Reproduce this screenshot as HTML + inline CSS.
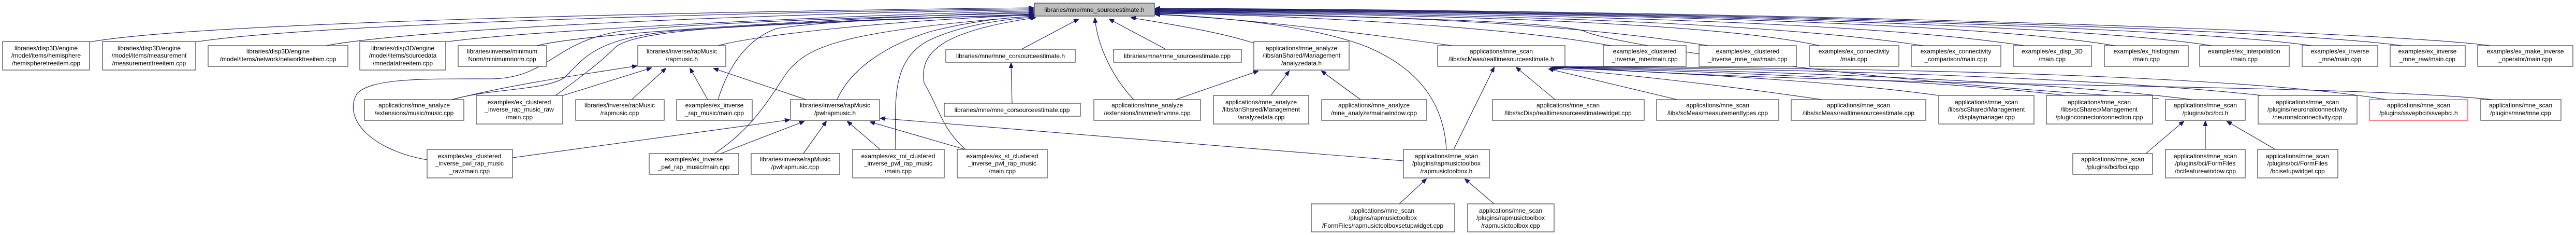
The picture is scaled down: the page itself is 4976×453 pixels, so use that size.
<!DOCTYPE html>
<html><head><meta charset="utf-8"><style>
html,body{margin:0;padding:0;background:#fff;}
svg{display:block}
text{font-family:"Liberation Sans",sans-serif;font-size:12px;fill:#000;text-anchor:middle}
.n{fill:#fff;stroke:#404040;stroke-width:1.2}
.e{fill:none;stroke:#191970;stroke-width:1.1}
</style></head><body>
<svg width="4976" height="453" viewBox="0 0 4976 453" xmlns="http://www.w3.org/2000/svg">
<defs><marker id="a" markerWidth="10" markerHeight="8" refX="9" refY="4" orient="auto" markerUnits="userSpaceOnUse"><path d="M0,0 L10,4 L0,8 z" fill="#191970" stroke="#191970"/></marker></defs>
<g class="e" marker-end="url(#a)">
<!-- to main from left -->
<path d="M173,81 C400,40 1500,20 1996,15"/>
<path d="M378,81 C600,45 1500,22 1996,17"/>
<path d="M630,88 C800,55 1500,25 1996,19"/>
<path d="M861,81 C1000,60 1600,30 1996,21"/>
<path d="M1037,88 C1150,60 1700,32 1996,23"/>
<path d="M825,308 C720,290 660,230 690,180 C720,150 820,152 950,152 C1060,150 1070,80 1200,60 C1400,40 1800,30 1996,25"/>
<path d="M873,192 C950,170 1050,175 1090,150 C1130,110 1150,75 1300,60 C1500,45 1800,35 1996,27"/>
<path d="M1073,184 C1120,150 1160,120 1190,90 C1230,60 1400,45 1996,28"/>
<path d="M1387,88 C1450,70 1700,40 1996,29"/>
<path d="M1387,192 C1400,150 1430,80 1500,55 C1600,40 1800,32 1996,30"/>
<path d="M1380,296 C1450,250 1480,200 1520,140 C1560,90 1620,60 1996,31"/>
<path d="M1617,192 C1640,140 1700,90 1800,60 C1880,40 1950,33 1996,32"/>
<path d="M1730,288 C1730,200 1720,120 1790,80 C1850,50 1930,38 1998,33"/>
<path d="M1865,288 C1820,250 1810,200 1785,160 C1775,100 1820,60 2000,34"/>
<!-- bottom -->
<path d="M1973,95 L2083,37"/>
<path d="M2190,192 C2150,150 2120,90 2115,35"/>
<path d="M2252,95 L2143,37"/>
<path d="M2422,83 C2350,60 2250,45 2185,34"/>
<!-- right -->
<path d="M2806,88 C2600,60 2400,35 2232,28"/>
<path d="M2794,288 C2790,220 2760,140 2640,90 C2550,55 2400,35 2232,27"/>
<path d="M3112,88 C2900,50 2500,30 2232,25"/>
<path d="M3300,88 C3000,40 2600,28 2232,24"/>
<path d="M3515,88 C3300,40 2700,27 2232,23"/>
<path d="M3715,88 C3400,40 2800,26 2232,22"/>
<path d="M3910,88 C3600,40 2900,25 2232,21"/>
<path d="M4085,88 C3800,40 3000,24 2232,20"/>
<path d="M4272,88 C4000,45 3100,23 2232,19"/>
<path d="M4465,88 C4200,50 3200,22 2232,18"/>
<path d="M4640,88 C4400,55 3300,21 2232,17"/>
<path d="M4810,88 C4600,60 3400,20 2232,16"/>
<path d="M4170,190 C3500,150 3100,80 3060,60 C3000,40 2600,30 2232,26"/>
<!-- rapmusic.h -->
<path d="M873,192 C1000,160 1150,140 1230,127"/>
<path d="M1088,184 L1258,131"/>
<path d="M1220,192 L1286,132"/>
<path d="M1367,192 L1333,132"/>
<path d="M1557,192 L1379,132"/>
<!-- pwlrapmusic.h -->
<path d="M990,304 L1525,231"/>
<path d="M1392,296 L1553,234"/>
<path d="M1552,296 L1596,234"/>
<path d="M1700,288 L1637,234"/>
<path d="M1864,288 L1681,235"/>
<path d="M2711,310 L1701,228"/>
<!-- corsource -->
<path d="M1955,199 L1953,122"/>
<!-- analyzedata.h -->
<path d="M2271,192 L2430,137"/>
<path d="M2455,184 L2490,137"/>
<path d="M2628,192 L2553,137"/>
<!-- rts.h -->
<path d="M2808,288 L2886,130"/>
<path d="M3004,192 L2929,130"/>
<path d="M3240,192 L2992,133"/>
<path d="M3520,192 C3300,160 3100,140 2995,131"/>
<path d="M3745,184 C3500,150 3100,135 2998,130"/>
<path d="M3990,184 C3700,150 3200,135 3000,130"/>
<path d="M4235,192 C3900,150 3300,135 3002,129"/>
<path d="M4370,184 C4000,145 3400,132 3004,129"/>
<path d="M4610,192 C4300,140 3500,130 3006,128"/>
<path d="M4815,192 C4500,160 3600,170 3010,128"/>
<!-- rapmusictoolbox.h -->
<path d="M2703,393 L2755,345"/>
<path d="M2886,393 L2830,345"/>
<!-- bci.h -->
<path d="M4145,296 L4218,234"/>
<path d="M4260,288 L4260,234"/>
<path d="M4395,288 L4302,234"/>
</g>
<!-- main -->
<rect x="1998" y="6" width="232" height="25" fill="#bfbfbf" stroke="#404040" stroke-width="1.2"/>
<text x="2114" y="23">libraries/mne/mne_sourceestimate.h</text>
<!-- row1 -->
<g>
<rect class="n" x="5" y="80" width="168" height="55"/><text x="89" y="97">libraries/disp3D/engine</text><text x="89" y="111">/model/items/hemisphere</text><text x="89" y="126">/hemispheretreeitem.cpp</text>
<rect class="n" x="198" y="80" width="180" height="55"/><text x="288" y="97">libraries/disp3D/engine</text><text x="288" y="111">/model/items/measurement</text><text x="288" y="126">/measurementtreeitem.cpp</text>
<rect class="n" x="402" y="88" width="270" height="40"/><text x="537" y="103">libraries/disp3D/engine</text><text x="537" y="118">/model/items/network/networktreeitem.cpp</text>
<rect class="n" x="695" y="80" width="166" height="55"/><text x="778" y="97">libraries/disp3D/engine</text><text x="778" y="111">/model/items/sourcedata</text><text x="778" y="126">/mnedatatreeitem.cpp</text>
<rect class="n" x="885" y="88" width="171" height="40"/><text x="970" y="103">libraries/inverse/minimum</text><text x="970" y="118">Norm/minimumnorm.cpp</text>
<rect class="n" x="1232" y="88" width="170" height="40"/><text x="1317" y="103">libraries/inverse/rapMusic</text><text x="1317" y="118">/rapmusic.h</text>
<rect class="n" x="1827" y="95" width="250" height="25"/><text x="1952" y="112">libraries/mne/mne_corsourceestimate.h</text>
<rect class="n" x="2151" y="95" width="247" height="25"/><text x="2274" y="112">libraries/mne/mne_sourceestimate.cpp</text>
<rect class="n" x="2422" y="80" width="184" height="55"/><text x="2514" y="97">applications/mne_analyze</text><text x="2514" y="111">/libs/anShared/Management</text><text x="2514" y="126">/analyzedata.h</text>
<rect class="n" x="2777" y="88" width="246" height="40"/><text x="2900" y="103">applications/mne_scan</text><text x="2900" y="118">/libs/scMeas/realtimesourceestimate.h</text>
<rect class="n" x="3097" y="88" width="160" height="40"/><text x="3177" y="103">examples/ex_clustered</text><text x="3177" y="118">_inverse_mne/main.cpp</text>
<rect class="n" x="3282" y="88" width="188" height="40"/><text x="3376" y="103">examples/ex_clustered</text><text x="3376" y="118">_inverse_mne_raw/main.cpp</text>
<rect class="n" x="3495" y="88" width="173" height="40"/><text x="3581" y="103">examples/ex_connectivity</text><text x="3581" y="118">/main.cpp</text>
<rect class="n" x="3692" y="88" width="173" height="40"/><text x="3778" y="103">examples/ex_connectivity</text><text x="3778" y="118">_comparison/main.cpp</text>
<rect class="n" x="3889" y="88" width="151" height="40"/><text x="3964" y="103">examples/ex_disp_3D</text><text x="3964" y="118">/main.cpp</text>
<rect class="n" x="4065" y="88" width="162" height="40"/><text x="4146" y="103">examples/ex_histogram</text><text x="4146" y="118">/main.cpp</text>
<rect class="n" x="4249" y="88" width="173" height="40"/><text x="4335" y="103">examples/ex_interpolation</text><text x="4335" y="118">/main.cpp</text>
<rect class="n" x="4447" y="88" width="146" height="40"/><text x="4520" y="103">examples/ex_inverse</text><text x="4520" y="118">_mne/main.cpp</text>
<rect class="n" x="4617" y="88" width="145" height="40"/><text x="4689" y="103">examples/ex_inverse</text><text x="4689" y="118">_mne_raw/main.cpp</text>
<rect class="n" x="4786" y="88" width="184" height="40"/><text x="4878" y="103">examples/ex_make_inverse</text><text x="4878" y="118">_operator/main.cpp</text>
</g>
<!-- row2 -->
<g>
<rect class="n" x="704" y="192" width="192" height="40"/><text x="800" y="207">applications/mne_analyze</text><text x="800" y="222">/extensions/music/music.cpp</text>
<rect class="n" x="920" y="184" width="167" height="55"/><text x="1003" y="201">examples/ex_clustered</text><text x="1003" y="215">_inverse_rap_music_raw</text><text x="1003" y="230">/main.cpp</text>
<rect class="n" x="1112" y="192" width="171" height="40"/><text x="1197" y="207">libraries/inverse/rapMusic</text><text x="1197" y="222">/rapmusic.cpp</text>
<rect class="n" x="1307" y="192" width="146" height="40"/><text x="1380" y="207">examples/ex_inverse</text><text x="1380" y="222">_rap_music/main.cpp</text>
<rect class="n" x="1527" y="192" width="172" height="40"/><text x="1613" y="207">libraries/inverse/rapMusic</text><text x="1613" y="222">/pwlrapmusic.h</text>
<rect class="n" x="1824" y="199" width="263" height="25"/><text x="1955" y="216">libraries/mne/mne_corsourceestimate.cpp</text>
<rect class="n" x="2113" y="192" width="206" height="40"/><text x="2216" y="207">applications/mne_analyze</text><text x="2216" y="222">/extensions/invmne/invmne.cpp</text>
<rect class="n" x="2344" y="184" width="184" height="55"/><text x="2436" y="201">applications/mne_analyze</text><text x="2436" y="215">/libs/anShared/Management</text><text x="2436" y="230">/analyzedata.cpp</text>
<rect class="n" x="2553" y="192" width="203" height="40"/><text x="2654" y="207">applications/mne_analyze</text><text x="2654" y="222">/mne_analyze/mainwindow.cpp</text>
<rect class="n" x="2883" y="192" width="293" height="40"/><text x="3029" y="207">applications/mne_scan</text><text x="3029" y="222">/libs/scDisp/realtimesourceestimatewidget.cpp</text>
<rect class="n" x="3200" y="192" width="236" height="40"/><text x="3318" y="207">applications/mne_scan</text><text x="3318" y="222">/libs/scMeas/measurementtypes.cpp</text>
<rect class="n" x="3460" y="192" width="260" height="40"/><text x="3590" y="207">applications/mne_scan</text><text x="3590" y="222">/libs/scMeas/realtimesourceestimate.cpp</text>
<rect class="n" x="3745" y="184" width="184" height="55"/><text x="3837" y="201">applications/mne_scan</text><text x="3837" y="215">/libs/scShared/Management</text><text x="3837" y="230">/displaymanager.cpp</text>
<rect class="n" x="3953" y="184" width="205" height="55"/><text x="4055" y="201">applications/mne_scan</text><text x="4055" y="215">/libs/scShared/Management</text><text x="4055" y="230">/pluginconnectorconnection.cpp</text>
<rect class="n" x="4183" y="192" width="154" height="40"/><text x="4260" y="207">applications/mne_scan</text><text x="4260" y="222">/plugins/bci/bci.h</text>
<rect class="n" x="4362" y="184" width="191" height="55"/><text x="4457" y="201">applications/mne_scan</text><text x="4457" y="215">/plugins/neuronalconnectivity</text><text x="4457" y="230">/neuronalconnectivity.cpp</text>
<rect x="4577" y="192" width="190" height="40" fill="#fff" stroke="#ff3030" stroke-width="1.2"/><text x="4672" y="207">applications/mne_scan</text><text x="4672" y="222">/plugins/ssvepbci/ssvepbci.h</text>
<rect class="n" x="4792" y="192" width="155" height="40"/><text x="4869" y="207">applications/mne_scan</text><text x="4869" y="222">/plugins/mne/mne.cpp</text>
</g>
<!-- row3 -->
<g>
<rect class="n" x="825" y="288" width="165" height="55"/><text x="907" y="305">examples/ex_clustered</text><text x="907" y="319">_inverse_pwl_rap_music</text><text x="907" y="334">_raw/main.cpp</text>
<rect class="n" x="1254" y="296" width="173" height="40"/><text x="1340" y="311">examples/ex_inverse</text><text x="1340" y="326">_pwl_rap_music/main.cpp</text>
<rect class="n" x="1451" y="296" width="171" height="40"/><text x="1536" y="311">libraries/inverse/rapMusic</text><text x="1536" y="326">/pwlrapmusic.cpp</text>
<rect class="n" x="1647" y="288" width="177" height="55"/><text x="1735" y="305">examples/ex_roi_clustered</text><text x="1735" y="319">_inverse_pwl_rap_music</text><text x="1735" y="334">/main.cpp</text>
<rect class="n" x="1849" y="288" width="174" height="55"/><text x="1936" y="305">examples/ex_st_clustered</text><text x="1936" y="319">_inverse_pwl_rap_music</text><text x="1936" y="334">/main.cpp</text>
<rect class="n" x="2711" y="288" width="166" height="55"/><text x="2794" y="305">applications/mne_scan</text><text x="2794" y="319">/plugins/rapmusictoolbox</text><text x="2794" y="334">/rapmusictoolbox.h</text>
<rect class="n" x="4004" y="296" width="154" height="40"/><text x="4081" y="311">applications/mne_scan</text><text x="4081" y="326">/plugins/bci/bci.cpp</text>
<rect class="n" x="4183" y="288" width="154" height="55"/><text x="4260" y="305">applications/mne_scan</text><text x="4260" y="319">/plugins/bci/FormFiles</text><text x="4260" y="334">/bcifeaturewindow.cpp</text>
<rect class="n" x="4361" y="288" width="155" height="55"/><text x="4438" y="305">applications/mne_scan</text><text x="4438" y="319">/plugins/bci/FormFiles</text><text x="4438" y="334">/bcisetupwidget.cpp</text>
</g>
<!-- row4 -->
<rect class="n" x="2533" y="393" width="277" height="54"/><text x="2671" y="410">applications/mne_scan</text><text x="2671" y="424">/plugins/rapmusictoolbox</text><text x="2671" y="439">/FormFiles/rapmusictoolboxsetupwidget.cpp</text>
<rect class="n" x="2835" y="393" width="167" height="54"/><text x="2918" y="410">applications/mne_scan</text><text x="2918" y="424">/plugins/rapmusictoolbox</text><text x="2918" y="439">/rapmusictoolbox.cpp</text>
</svg>
</body></html>
